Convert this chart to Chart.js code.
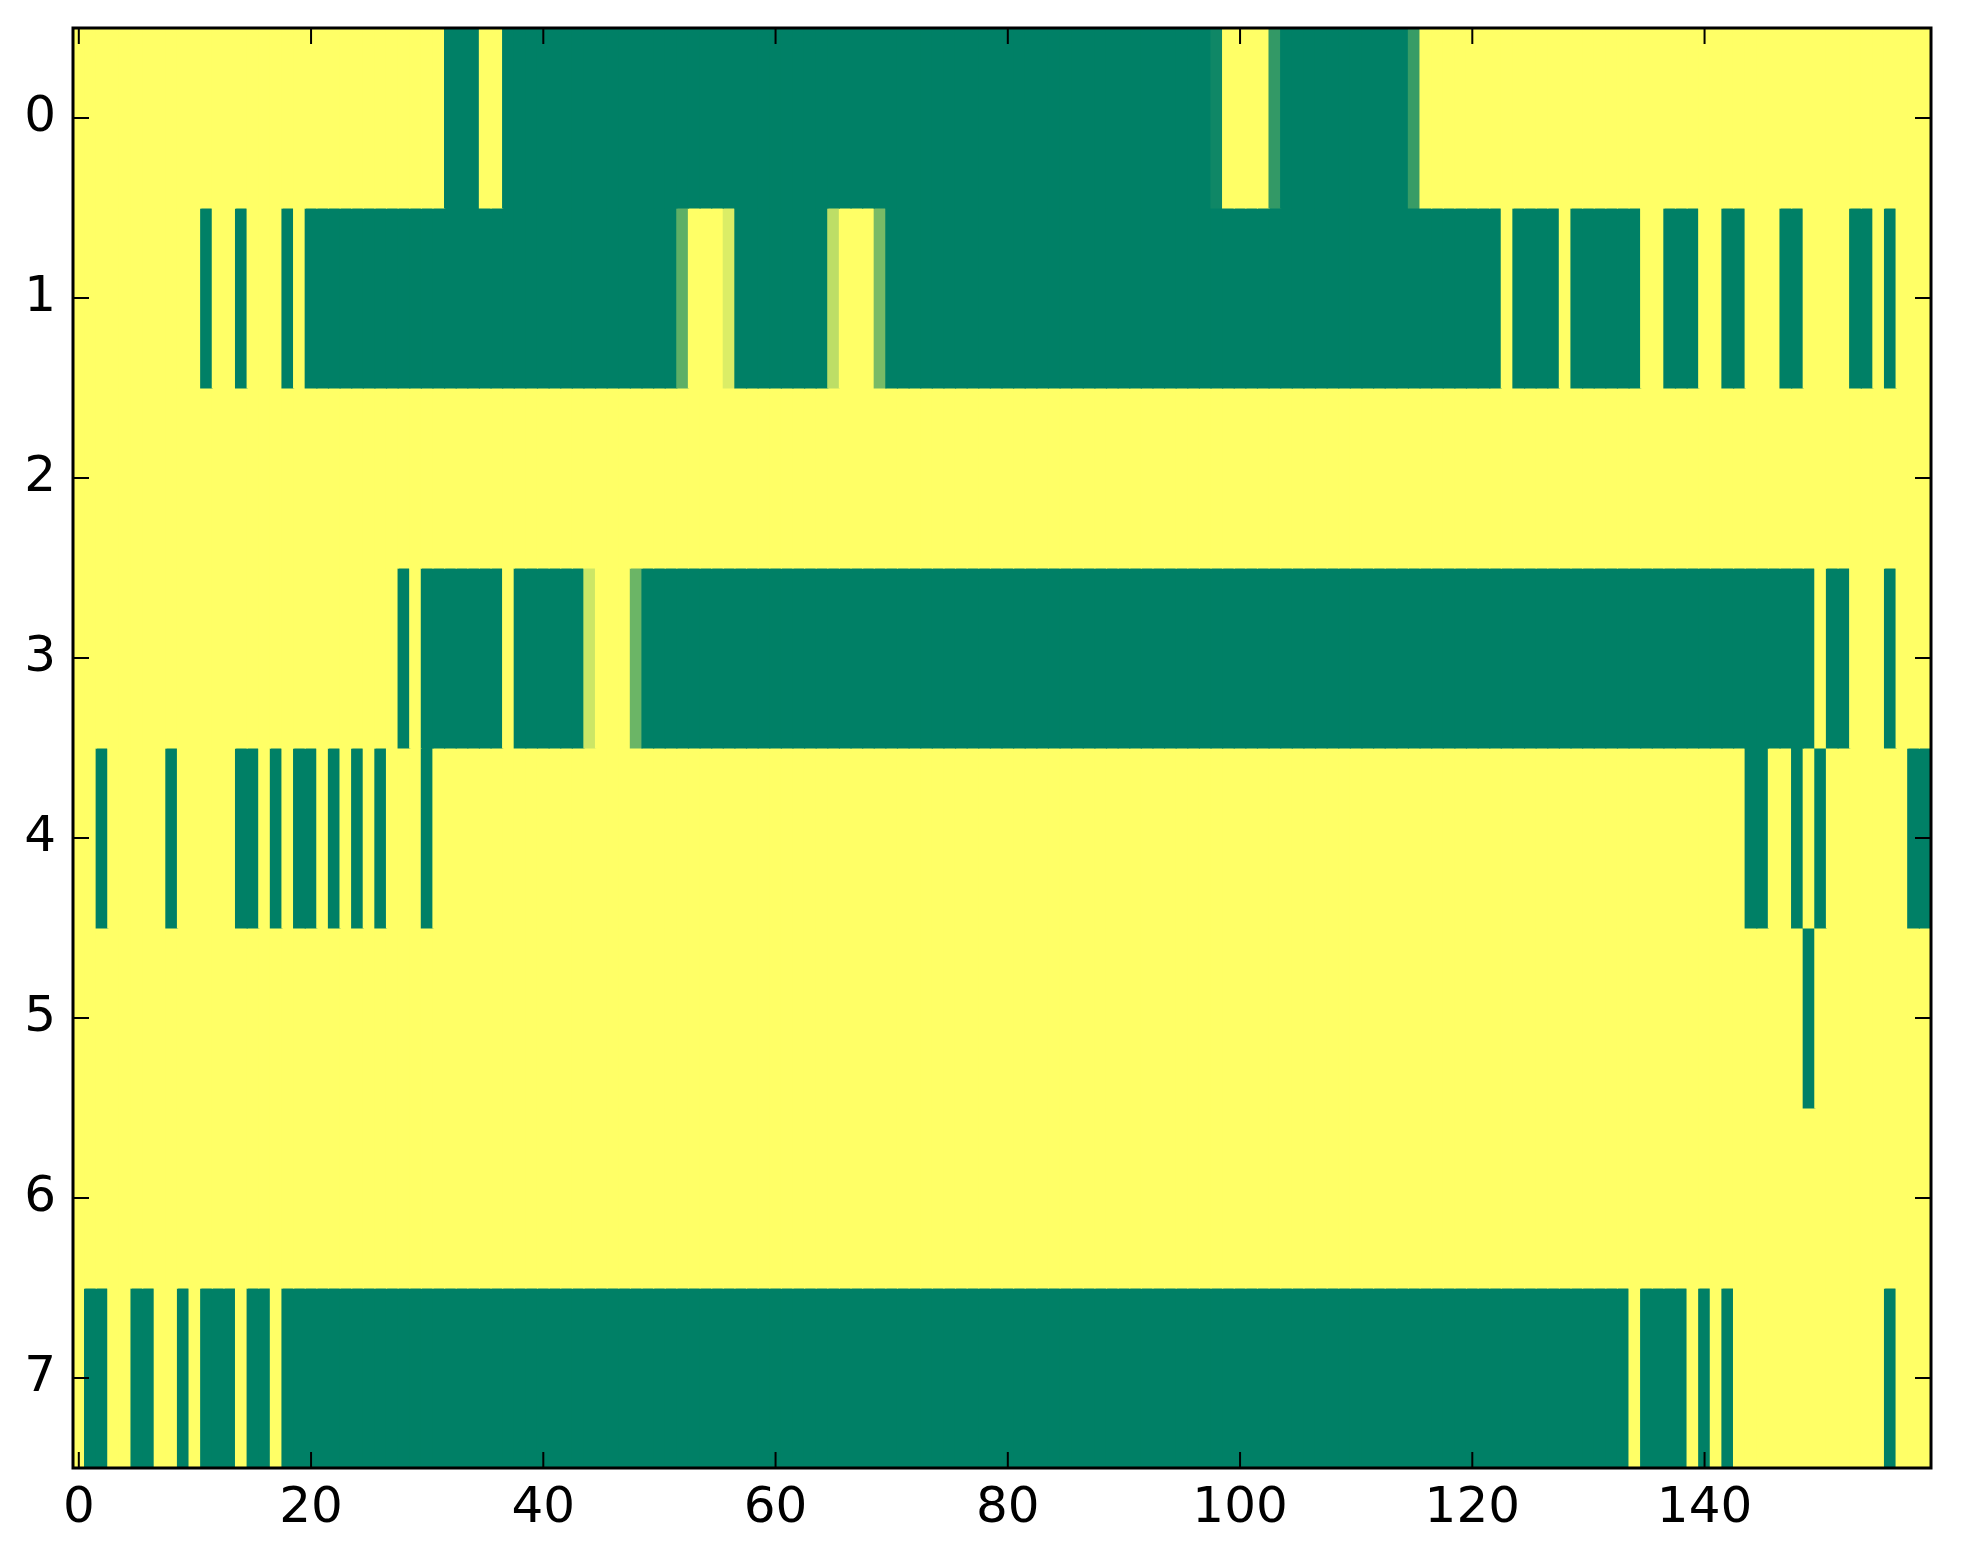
<!DOCTYPE html>
<html>
<head>
<meta charset="utf-8">
<script src="https://cdn.jsdelivr.net/npm/chart.js@4.4.0/dist/chart.umd.min.js"></script>
<style>
  html, body { margin: 0; padding: 0; background: #ffffff; }
  #wrap { width: 1963px; height: 1564px; }
</style>
</head>
<body>
<div id="wrap"><canvas id="grid" width="1963" height="1564"></canvas></div>
<script>
// row labels (top to bottom) and x tick labels
var rowLabels = ["0", "1", "2", "3", "4", "5", "6", "7"];
var xTickValues = [0, 20, 40, 60, 80, 100, 120, 140];

// cell values per row, 160 columns each (1 = yellow, 0 = green)
var row0 = [
  1,1,1,1,1,1,1,1,1,1,1,1,1,1,1,1,1,1,1,1,
  1,1,1,1,1,1,1,1,1,1,1,1,0,0,0,1,1,0,0,0,
  0,0,0,0,0,0,0,0,0,0,0,0,0,0,0,0,0,0,0,0,
  0,0,0,0,0,0,0,0,0,0,0,0,0,0,0,0,0,0,0,0,
  0,0,0,0,0,0,0,0,0,0,0,0,0,0,0,0,0,0,0.06,1,
  1,1,1,0.2,0,0,0,0,0,0,0,0,0,0,0,0.22,1,1,1,1,
  1,1,1,1,1,1,1,1,1,1,1,1,1,1,1,1,1,1,1,1,
  1,1,1,1,1,1,1,1,1,1,1,1,1,1,1,1,1,1,1,1
];
var row1 = [
  1,1,1,1,1,1,1,1,1,1,1,0,1,1,0,1,1,1,0,1,
  0,0,0,0,0,0,0,0,0,0,0,0,0,0,0,0,0,0,0,0,
  0,0,0,0,0,0,0,0,0,0,0,0,0.37,1,1,1,0.86,0,0,0,
  0,0,0,0,0,0.74,1,1,1,0.47,0,0,0,0,0,0,0,0,0,0,
  0,0,0,0,0,0,0,0,0,0,0,0,0,0,0,0,0,0,0,0,
  0,0,0,0,0,0,0,0,0,0,0,0,0,0,0,0,0,0,0,0,
  0,0,0,1,0,0,0,0,1,0,0,0,0,0,0,1,1,0,0,0,
  1,1,0,0,1,1,1,0,0,1,1,1,1,0,0,1,0,1,1,1
];
var row2 = [
  1,1,1,1,1,1,1,1,1,1,1,1,1,1,1,1,1,1,1,1,
  1,1,1,1,1,1,1,1,1,1,1,1,1,1,1,1,1,1,1,1,
  1,1,1,1,1,1,1,1,1,1,1,1,1,1,1,1,1,1,1,1,
  1,1,1,1,1,1,1,1,1,1,1,1,1,1,1,1,1,1,1,1,
  1,1,1,1,1,1,1,1,1,1,1,1,1,1,1,1,1,1,1,1,
  1,1,1,1,1,1,1,1,1,1,1,1,1,1,1,1,1,1,1,1,
  1,1,1,1,1,1,1,1,1,1,1,1,1,1,1,1,1,1,1,1,
  1,1,1,1,1,1,1,1,1,1,1,1,1,1,1,1,1,1,1,1
];
var row3 = [
  1,1,1,1,1,1,1,1,1,1,1,1,1,1,1,1,1,1,1,1,
  1,1,1,1,1,1,1,1,0,1,0,0,0,0,0,0,0,1,0,0,
  0,0,0,0,0.8,1,1,1,0.42,0,0,0,0,0,0,0,0,0,0,0,
  0,0,0,0,0,0,0,0,0,0,0,0,0,0,0,0,0,0,0,0,
  0,0,0,0,0,0,0,0,0,0,0,0,0,0,0,0,0,0,0,0,
  0,0,0,0,0,0,0,0,0,0,0,0,0,0,0,0,0,0,0,0,
  0,0,0,0,0,0,0,0,0,0,0,0,0,0,0,0,0,0,0,0,
  0,0,0,0,0,0,0,0,0,0,1,0,0,1,1,1,0,1,1,1
];
var row4 = [
  1,1,0,1,1,1,1,1,0,1,1,1,1,1,0,0,1,0,1,0,
  0,1,0,1,0,1,0,1,1,1,0,1,1,1,1,1,1,1,1,1,
  1,1,1,1,1,1,1,1,1,1,1,1,1,1,1,1,1,1,1,1,
  1,1,1,1,1,1,1,1,1,1,1,1,1,1,1,1,1,1,1,1,
  1,1,1,1,1,1,1,1,1,1,1,1,1,1,1,1,1,1,1,1,
  1,1,1,1,1,1,1,1,1,1,1,1,1,1,1,1,1,1,1,1,
  1,1,1,1,1,1,1,1,1,1,1,1,1,1,1,1,1,1,1,1,
  1,1,1,1,0,0,1,1,0,1,0,1,1,1,1,1,1,1,0,0
];
var row5 = [
  1,1,1,1,1,1,1,1,1,1,1,1,1,1,1,1,1,1,1,1,
  1,1,1,1,1,1,1,1,1,1,1,1,1,1,1,1,1,1,1,1,
  1,1,1,1,1,1,1,1,1,1,1,1,1,1,1,1,1,1,1,1,
  1,1,1,1,1,1,1,1,1,1,1,1,1,1,1,1,1,1,1,1,
  1,1,1,1,1,1,1,1,1,1,1,1,1,1,1,1,1,1,1,1,
  1,1,1,1,1,1,1,1,1,1,1,1,1,1,1,1,1,1,1,1,
  1,1,1,1,1,1,1,1,1,1,1,1,1,1,1,1,1,1,1,1,
  1,1,1,1,1,1,1,1,1,0,1,1,1,1,1,1,1,1,1,1
];
var row6 = [
  1,1,1,1,1,1,1,1,1,1,1,1,1,1,1,1,1,1,1,1,
  1,1,1,1,1,1,1,1,1,1,1,1,1,1,1,1,1,1,1,1,
  1,1,1,1,1,1,1,1,1,1,1,1,1,1,1,1,1,1,1,1,
  1,1,1,1,1,1,1,1,1,1,1,1,1,1,1,1,1,1,1,1,
  1,1,1,1,1,1,1,1,1,1,1,1,1,1,1,1,1,1,1,1,
  1,1,1,1,1,1,1,1,1,1,1,1,1,1,1,1,1,1,1,1,
  1,1,1,1,1,1,1,1,1,1,1,1,1,1,1,1,1,1,1,1,
  1,1,1,1,1,1,1,1,1,1,1,1,1,1,1,1,1,1,1,1
];
var row7 = [
  1,0,0,1,1,0,0,1,1,0,1,0,0,0,1,0,0,1,0,0,
  0,0,0,0,0,0,0,0,0,0,0,0,0,0,0,0,0,0,0,0,
  0,0,0,0,0,0,0,0,0,0,0,0,0,0,0,0,0,0,0,0,
  0,0,0,0,0,0,0,0,0,0,0,0,0,0,0,0,0,0,0,0,
  0,0,0,0,0,0,0,0,0,0,0,0,0,0,0,0,0,0,0,0,
  0,0,0,0,0,0,0,0,0,0,0,0,0,0,0,0,0,0,0,0,
  0,0,0,0,0,0,0,0,0,0,0,0,0,0,1,0,0,0,0,1,
  0,1,0,1,1,1,1,1,1,1,1,1,1,1,1,1,0,1,1,1
];
var rows = [row0, row1, row2, row3, row4, row5, row6, row7];

var tickLen = 16;
var tickFont = { family: "DejaVu Sans", size: 50 };

// matplotlib "summer" colormap: green (0) -> yellow (1)
function summer(v) {
  var r = Math.round(255 * v),
    g = Math.round(255 * (0.5 + 0.5 * v));
  return "rgb(" + r + "," + g + ",102)";
}

// one floating-bar dataset per row, one bar per cell
var datasets = rows.map(function (vals, r) {
  return {
    label: rowLabels[r],
    data: vals.map(function (v, c) {
      return { x: [c - 0.5, c + 0.5], y: rowLabels[r] };
    }),
    backgroundColor: vals.map(summer),
    borderWidth: 0,
    inflateAmount: 0.6,
    grouped: false,
    barPercentage: 1,
    categoryPercentage: 1,
  };
});

// black frame with inward ticks on all four sides
var frameTicks = {
  id: "frameTicks",
  afterDatasetsDraw: function (chart) {
    var ctx = chart.ctx,
      a = chart.chartArea,
      xs = chart.scales.x,
      ys = chart.scales.y;
    ctx.save();
    ctx.strokeStyle = "#000000";
    ctx.lineWidth = 2;
    ctx.beginPath();
    xTickValues.forEach(function (v) {
      var px = xs.getPixelForValue(v);
      ctx.moveTo(px, a.bottom);
      ctx.lineTo(px, a.bottom - tickLen);
      ctx.moveTo(px, a.top);
      ctx.lineTo(px, a.top + tickLen);
    });
    rowLabels.forEach(function (lab, i) {
      var py = ys.getPixelForValue(i);
      ctx.moveTo(a.left, py);
      ctx.lineTo(a.left + tickLen, py);
      ctx.moveTo(a.right, py);
      ctx.lineTo(a.right - tickLen, py);
    });
    ctx.stroke();
    ctx.lineWidth = 3;
    ctx.strokeRect(a.left, a.top, a.right - a.left, a.bottom - a.top);
    ctx.restore();
  },
};

new Chart(document.getElementById("grid"), {
  type: "bar",
  data: { labels: rowLabels, datasets: datasets },
  options: {
    indexAxis: "y",
    responsive: false,
    animation: false,
    devicePixelRatio: 1,
    layout: { padding: { top: 28, right: 32, left: 0, bottom: 0 } },
    plugins: { legend: { display: false }, tooltip: { enabled: false } },
    scales: {
      x: {
        type: "linear",
        min: -0.5,
        max: 159.5,
        grid: { display: false },
        border: { display: false },
        ticks: { font: tickFont, color: "#000000", padding: 3, maxRotation: 0 },
        afterBuildTicks: function (s) {
          s.ticks = xTickValues.map(function (v) {
            return { value: v };
          });
        },
        afterFit: function (s) {
          s.height = 96;
          s.paddingLeft = 0;
          s.paddingRight = 0;
        },
      },
      y: {
        type: "category",
        labels: rowLabels,
        offset: true,
        grid: { display: false },
        border: { display: false },
        ticks: { font: tickFont, color: "#000000", padding: 9 },
        afterFit: function (s) {
          s.width = 73;
          s.paddingTop = 0;
          s.paddingBottom = 0;
        },
      },
    },
  },
  plugins: [frameTicks],
});
</script>
</body>
</html>
